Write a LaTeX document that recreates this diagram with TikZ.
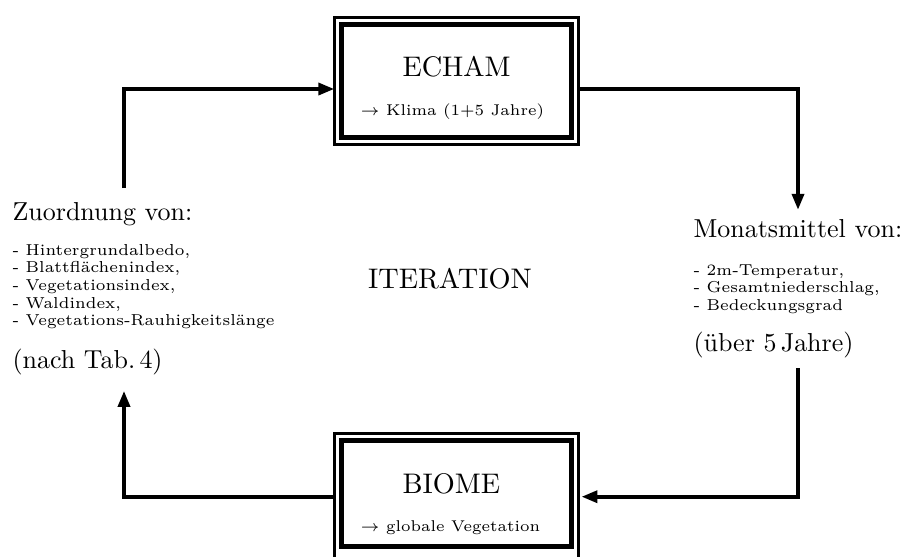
\documentclass[tikz,border=0pt]{standalone}
\usetikzlibrary{arrows.meta,fit}
\begin{document}
\begin{tikzpicture}[x=0.385pt,y=-0.385pt,
  inbox/.style={draw,line width=1.8pt,inner sep=0pt,outer sep=0pt,minimum width=88.63pt},
  outbox/.style={draw,line width=1pt,inner sep=2.7pt,outer sep=0pt},
  conn/.style={line width=1.7pt},
  tipped/.style={conn,-{Triangle[length=6.2pt,width=4.5pt]}},
  big/.style={inner sep=0pt,font=\fontsize{10}{12}\selectfont},
  title/.style={inner sep=0pt,font=\fontsize{10.9}{13}\selectfont},
  small/.style={inner sep=0pt,font=\fontsize{6}{6.8}\selectfont},
  listtext/.style={inner sep=0pt,font=\fontsize{6.1}{6.8}\selectfont}]
\useasboundingbox (0,0) rectangle (906,556);
\clip (0,0) rectangle (906,556);
% boxes
\node[inbox,minimum height=43.31pt] (echam) at (456.6,80.95) {};
\node[outbox,fit=(echam)] (echamO) {};
\node[inbox,minimum height=40.93pt] (biome) at (456.6,493.65) {};
\node[outbox,fit={(biome.north west) ([yshift=-4pt]biome.south east)}] (biomeO) {};
% box texts
\node[title,anchor=base west] (t1) at (402,76) {ECHAM};
\node[small,anchor=base west] (t2) at (360,115) {$\rightarrow$ Klima (1+5 Jahre)};
\node[title,anchor=base west] (t3) at (402,493) {BIOME};
\node[small,anchor=base west] (t4) at (360,531) {$\rightarrow$ globale Vegetation};
\node[title,anchor=base] (iter) at (450,288.3) {ITERATION};
% left texts
\node[big,anchor=base west] (zu) at (12,220) {Zuordnung von:};
\node[listtext,anchor=base west] (z1) at (12,255) {- Hintergrundalbedo,};
\node[listtext,anchor=base west] (z2) at (12,272.7) {- Blattflächenindex,};
\node[listtext,anchor=base west] (z3) at (12,290.3) {- Vegetationsindex,};
\node[listtext,anchor=base west] (z4) at (12,308) {- Waldindex,};
\node[listtext,anchor=base west] (z5) at (12,325.7) {- Vegetations-Rauhigkeitslänge};
\node[big,anchor=base west] (zn) at (12,368) {(nach Tab.\,4)};
% right texts
\node[big,anchor=base west] (mo) at (693,237) {Monatsmittel von:};
\node[listtext,anchor=base west] (m1) at (693,275) {- 2m-Temperatur,};
\node[listtext,anchor=base west] (m2) at (693,292.7) {- Gesamtniederschlag,};
\node[listtext,anchor=base west] (m3) at (693,310.7) {- Bedeckungsgrad};
\node[big,anchor=base west] (mu) at (693,351.7) {(über 5\,Jahre)};
% connectors
\coordinate (ls) at (124,188);
\coordinate (lc) at (124,89);
\coordinate (rc) at (798,89);
\coordinate (re) at (798,210);
\coordinate (rs) at (798,368);
\coordinate (rb) at (798,496.7);
\coordinate (lb) at (124,496.7);
\coordinate (le) at (124,390.7);
\draw[tipped] (ls) -- (lc) -- (lc -| echamO.west);
\draw[tipped] (rc -| echamO.east) -- (rc) -- (re);
\draw[tipped,shorten >=1pt] (rs) -- (rb) -- (rb -| biomeO.east);
\draw[tipped] (lb -| biomeO.west) -- (lb) -- (le);
\end{tikzpicture}
\end{document}
